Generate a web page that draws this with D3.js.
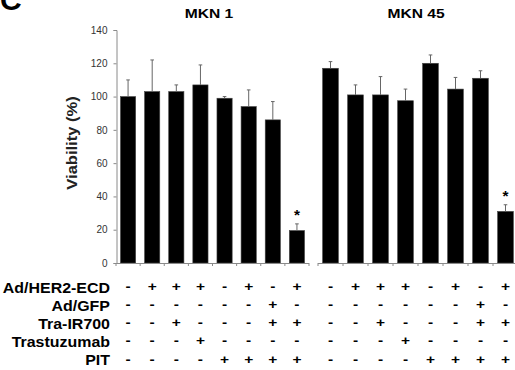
<!DOCTYPE html>
<html>
<head>
<meta charset="utf-8">
<script src="https://cdn.jsdelivr.net/npm/d3@7"></script>
<style>
  html, body { margin: 0; padding: 0; background: #fff; }
  svg { display: block; font-family: "Liberation Sans", Arial, sans-serif; }
</style>
</head>
<body>
<svg id="chart" width="515" height="370"></svg>
<script>
// values
const panels = ["MKN 1", "MKN 45"];
const mkn1Values = [100, 103, 103, 107, 99, 94, 86, 19.5];
const mkn1Errors = [10, 19, 4, 12, 1, 10, 11, 4];
const mkn45Values = [117, 101, 101, 97.5, 120, 104.5, 111, 31];
const mkn45Errors = [4, 6, 11, 7, 5, 7, 4.5, 4];
const starred = [7];

const yTicks = [0, 20, 40, 60, 80, 100, 120, 140];
const rowLabels = ["Ad/HER2-ECD", "Ad/GFP", "Tra-IR700", "Trastuzumab", "PIT"];
const conditions = [
  ["-", "+", "+", "+", "-", "+", "-", "+"],
  ["-", "-", "-", "-", "-", "-", "+", "-"],
  ["-", "-", "+", "-", "-", "-", "+", "+"],
  ["-", "-", "-", "+", "-", "-", "-", "-"],
  ["-", "-", "-", "-", "+", "+", "+", "+"]
];

const svg = d3.select("#chart");
const axisColor = "#8a8a8a";

const y = d3.scaleLinear().domain([0, 140]).range([263, 30]);
const idx = d3.range(8);
const rowY = d3.scalePoint().domain(rowLabels).range([288, 360.5]);

// bold text, a bit wider than Arial like the source figure
function wideText(parent, x, yy, str, size, sx, anchor) {
  return parent.append("text")
    .attr("transform", `translate(${x},${yy}) scale(${sx},1)`)
    .attr("text-anchor", anchor || "middle")
    .attr("font-size", size)
    .attr("font-weight", "bold")
    .text(str);
}

const layouts = [
  { title: panels[0], values: mkn1Values, errors: mkn1Errors, range: [116, 309], titleX: 209, yAxis: true },
  { title: panels[1], values: mkn45Values, errors: mkn45Errors, range: [318, 518], titleX: 416, yAxis: false }
];

layouts.forEach(p => {
  const x = d3.scaleBand().domain(idx).range(p.range).paddingInner(0.37).paddingOuter(0.185);
  const step = x.step();
  const cx = i => x(i) + x.bandwidth() / 2;
  const g = svg.append("g");

  // bars
  g.selectAll("rect.bar")
    .data(idx)
    .enter().append("rect")
    .attr("class", "bar")
    .attr("x", i => x(i))
    .attr("width", x.bandwidth())
    .attr("y", i => y(p.values[i]))
    .attr("height", i => y(0) - y(p.values[i]))
    .attr("fill", "#000")
    .attr("stroke", "#444")
    .attr("stroke-width", 0.6);

  // upper error bars
  const eb = g.selectAll("g.err").data(idx).enter().append("g").attr("class", "err")
    .attr("stroke", "#666").attr("stroke-width", 1);
  eb.append("line")
    .attr("x1", cx).attr("x2", cx)
    .attr("y1", i => y(p.values[i]))
    .attr("y2", i => y(p.values[i] + p.errors[i]));
  eb.append("line")
    .attr("x1", i => cx(i) - 1.8)
    .attr("x2", i => cx(i) + 1.8)
    .attr("y1", i => y(p.values[i] + p.errors[i]))
    .attr("y2", i => y(p.values[i] + p.errors[i]));

  // significance stars
  starred.forEach(i => {
    wideText(g, cx(i), y(p.values[i] + p.errors[i]) - 4, "*", 14, 1.1);
  });

  // x axis line with ticks at band boundaries
  g.append("line")
    .attr("x1", p.range[0]).attr("x2", p.range[1])
    .attr("y1", y(0) + 0.5).attr("y2", y(0) + 0.5)
    .attr("stroke", axisColor);
  g.selectAll("line.xt").data(d3.range(9)).enter().append("line")
    .attr("x1", i => p.range[0] + i * step)
    .attr("x2", i => p.range[0] + i * step)
    .attr("y1", y(0)).attr("y2", y(0) + 3)
    .attr("stroke", axisColor);

  if (p.yAxis) {
    const ya = g.append("g")
      .attr("transform", `translate(${p.range[0] + 0.5},0)`)
      .call(d3.axisLeft(y).tickValues(yTicks).tickSize(3).tickPadding(6));
    ya.select(".domain").attr("stroke", axisColor);
    ya.selectAll(".tick line").attr("stroke", axisColor);
    ya.selectAll(".tick text")
      .attr("font-size", 10)
      .attr("fill", "#333")
      .attr("font-family", "Liberation Sans, Arial, sans-serif");
  }

  // panel title
  wideText(g, p.titleX, 18, p.title, 13, 1.2);

  // condition table
  conditions.forEach((row, r) => {
    row.forEach((d, i) => {
      wideText(g, cx(i), rowY(rowLabels[r]) + 3, d, 13.5, 1.15);
    });
  });
});

// row labels
rowLabels.forEach(d => {
  wideText(svg, 110, rowY(d) + 4.7, d, 14, 1.14, "end");
});

// y axis title
svg.append("text")
  .attr("transform", "translate(77,143) rotate(-90) scale(1.14,1)")
  .attr("text-anchor", "middle")
  .attr("font-size", 14.5)
  .attr("font-weight", "bold")
  .attr("fill", "#222")
  .text("Viability (%)");

// panel letter
svg.append("text")
  .attr("x", 0).attr("y", 10)
  .attr("font-size", 30)
  .attr("font-weight", "bold")
  .text("C");
</script>
</body>
</html>
